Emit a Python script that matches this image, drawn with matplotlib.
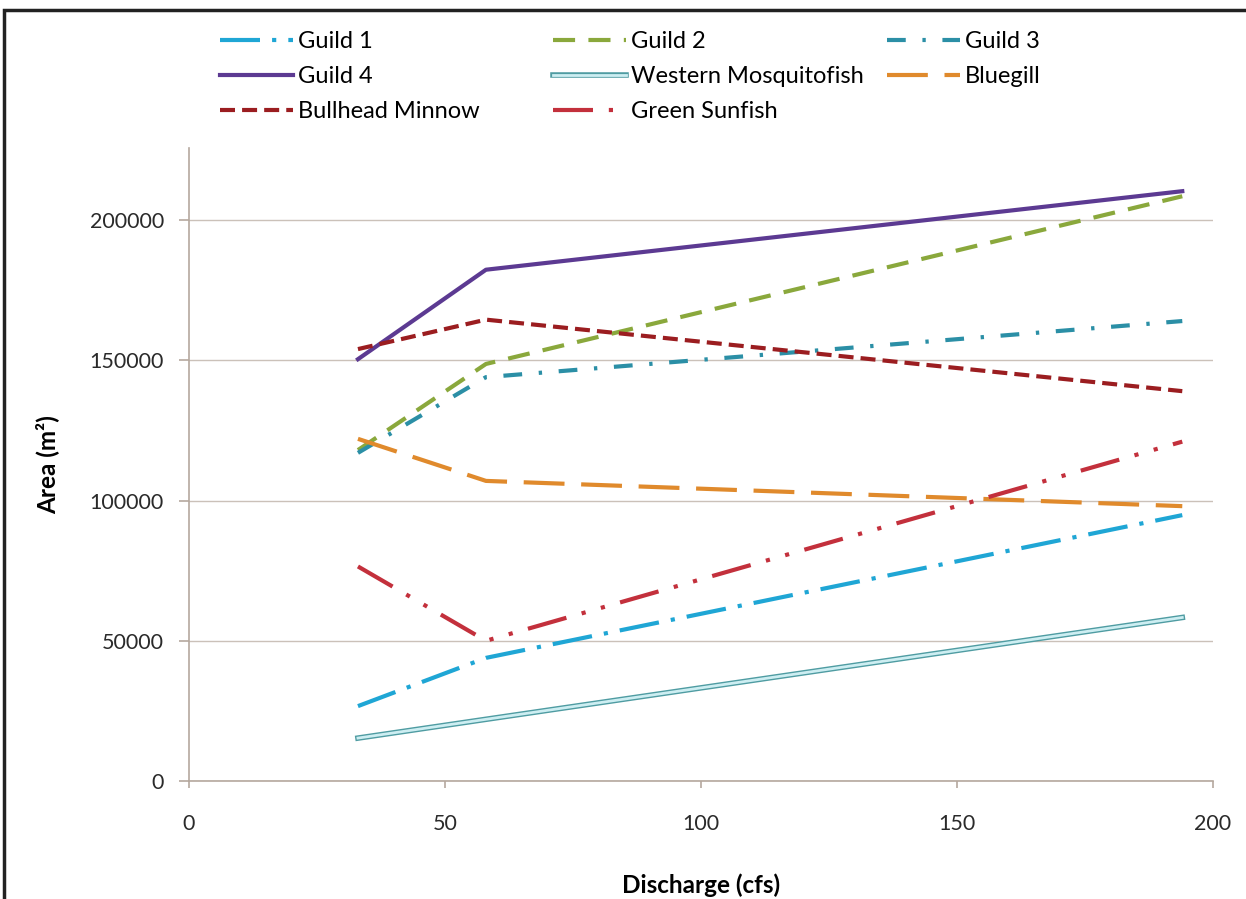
import matplotlib.pyplot as plt
from matplotlib.patches import Rectangle
import matplotlib.patheffects as pe

plt.rcParams['font.family'] = ['Lato', 'DejaVu Sans']

# discharge (cfs)
discharge = [33, 58, 194]

# habitat area (m2) per guild / species
guild_1 = [26700, 43900, 94800]
guild_2 = [118000, 148700, 208500]
guild_3 = [117000, 144000, 164000]
guild_4 = [150400, 182300, 210300]
western_mosquitofish = [15300, 22000, 58300]
bluegill = [122000, 107000, 98000]
bullhead_minnow = [154000, 164500, 139000]
green_sunfish = [76500, 50000, 121000]

W, H = 1246, 899
fig = plt.figure(figsize=(W / 100, H / 100), dpi=100)
ax = fig.add_axes([189 / W, 1 - 781 / H, (1213 - 189) / W, (781 - 148) / H])

axis_col = '#b5a89e'
ax.set_xlim(0, 200)
ax.set_ylim(0, 225700)
ax.set_xticks([0, 50, 100, 150, 200])
ax.set_yticks([0, 50000, 100000, 150000, 200000])
ax.yaxis.grid(True, color='#cbc1b9', linewidth=1.0)
ax.set_axisbelow(True)
for s in ['top', 'right']:
    ax.spines[s].set_visible(False)
for s in ['left', 'bottom']:
    ax.spines[s].set_color(axis_col)
    ax.spines[s].set_linewidth(1.2)
ax.tick_params(axis='both', colors=axis_col, labelcolor='#2a2a2a', labelsize=15.5,
               direction='out', width=1.2)
ax.tick_params(axis='x', length=5, pad=19)
ax.tick_params(axis='y', length=7, pad=11)

lw = 3.0
l1, = ax.plot(discharge, guild_1, color='#1fa6d5', lw=lw, dashes=(9.6, 2.9, 1, 2.9), label='Guild 1')
l2, = ax.plot(discharge, guild_2, color='#8aa83c', lw=lw, dashes=(5.3, 3.2), label='Guild 2')
l3, = ax.plot(discharge, guild_3, color='#2b8fa6', lw=lw, dashes=(4.5, 4, 0.8, 4), label='Guild 3')
l4, = ax.plot(discharge, guild_4, color='#5c3a92', lw=lw, label='Guild 4')
l5, = ax.plot(discharge, western_mosquitofish, color='#cdeef2', lw=2.0,
              path_effects=[pe.Stroke(linewidth=4.0, foreground='#4f9ca2'), pe.Normal()],
              label='Western Mosquitofish')
l6, = ax.plot(discharge, bluegill, color='#e08a2c', lw=lw, dashes=(9.8, 4), label='Bluegill')
l7, = ax.plot(discharge, bullhead_minnow, color='#9b1d20', lw=lw, dashes=(3.6, 1.7), label='Bullhead Minnow')
l8, = ax.plot(discharge, green_sunfish, color='#c3303c', lw=lw, dashes=(9.6, 3.8, 1, 3.8, 1, 3.8),
              label='Green Sunfish')

ax.set_xlabel('Discharge (cfs)', fontsize=17.5, fontweight='bold', labelpad=28)
ax.set_ylabel('Area (m²)', fontsize=17.5, fontweight='bold', labelpad=22)

# legend laid out as three columns, filled row by row
columns = [([l1, l4, l7], 220), ([l2, l5, l8], 553), ([l3, l6], 887)]
for hs, x0 in columns:
    fig.legend(hs, [h.get_label() for h in hs], frameon=False, loc='upper left',
               bbox_to_anchor=(x0 / W, 1 - 31 / H), borderaxespad=0, borderpad=0,
               fontsize=17, handlelength=3.1, handletextpad=0.2, labelspacing=0.6)

# outer border of the original chart
fig.patches.append(Rectangle((4 / W, -0.1), 1.2, 1 - 10 / H + 0.1,
                             transform=fig.transFigure, fill=False,
                             edgecolor='#222222', linewidth=2.5))

fig.savefig('out.png', dpi=100)
